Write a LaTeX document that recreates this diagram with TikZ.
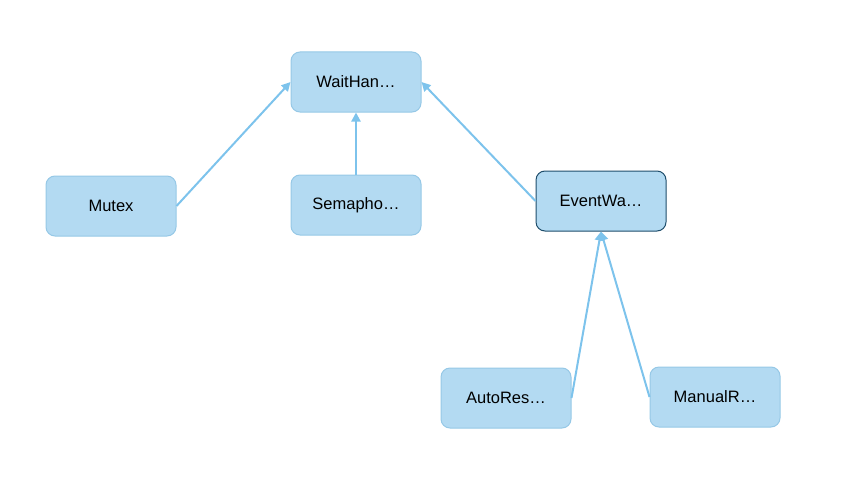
\documentclass[tikz,border=0pt]{standalone}
\usepackage{fontspec}
\setmainfont{Liberation Sans}
\usetikzlibrary{arrows.meta}
\definecolor{boxfill}{HTML}{B3DAF2}
\definecolor{boxline}{HTML}{96C8E6}
\definecolor{darkline}{HTML}{1E4D6B}
\definecolor{arrowblue}{HTML}{7DC3EC}

\begin{document}
\begin{tikzpicture}[x=1pt,y=-1pt,
	cls/.style={draw=boxline,fill=boxfill,rounded corners=9pt,line width=1pt,
		minimum width=130pt,minimum height=60pt,font=\fontsize{16.5}{19}\selectfont},
	sel/.style={cls,draw=darkline},
	inherit/.style={draw=arrowblue,line width=2pt,-{Triangle[width=9pt,length=9pt]}}]
	\useasboundingbox (0,0) rectangle (850,487);
	% nodes
	\node[cls] (waithandle) at (356,82) {WaitHan\dots};
	\node[cls] (mutex) at (111,206) {Mutex};
	\node[cls] (semaphore) at (356,205) {Semapho\dots};
	\node[sel] (eventwait) at (601,201) {EventWa\dots};
	\node[cls] (autoreset) at (506,398) {AutoRes\dots};
	\node[cls] (manualreset) at (715,397) {ManualR\dots};

	% lines
	\draw[inherit] (mutex.east) -- (waithandle.west);
	\draw[inherit] (semaphore.north) -- (waithandle.south);
	\draw[inherit] (eventwait.west) -- (waithandle.east);
	\draw[inherit] (autoreset.east) -- (eventwait.south);
	\draw[inherit] (manualreset.west) -- (eventwait.south);
\end{tikzpicture}
\end{document}
